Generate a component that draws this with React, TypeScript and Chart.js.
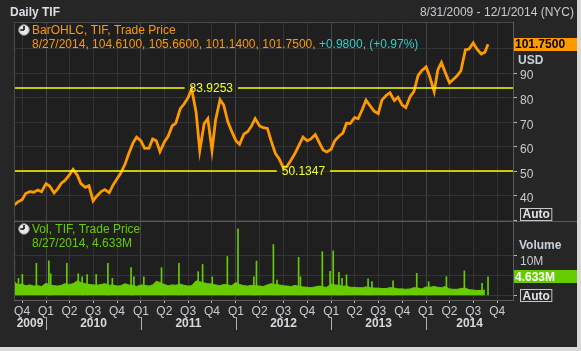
import React, { useEffect, useRef } from 'react';
import { Chart, registerables } from 'chart.js';

Chart.register(...registerables);

const DAY = 86400000;
const FONT = '"Liberation Sans", Arial, sans-serif';

const title = 'Daily TIF';
const rangeText = '8/31/2009 - 12/1/2014 (NYC)';
const axisStart = '2009-08-31';
const axisEnd = '2014-12-01';
const years = [2009, 2010, 2011, 2012, 2013, 2014];
const quarterMonths = [1, 4, 7, 10];

// Closing price, sampled on the 1st and 15th of each month
const price2009 = [36.3, 37.6, 38.5, 41.0, 41.8, 41.5, 42.4, 41.7]; // from September
const price2010 = [45.0, 44.0, 41.2, 42.9, 45.2, 46.3, 48.6, 50.8, 48.5, 45.0, 43.5, 44.2, 38.0, 39.9, 41.8, 42.6, 41.3, 44.3, 47.0, 49.2, 53.0, 57.2, 61.5, 63.9];
const price2011 = [62.4, 59.4, 59.5, 63.2, 62.5, 58.0, 62.0, 64.2, 68.5, 69.6, 75.5, 77.3, 80.0, 83.5, 74.0, 58.5, 69.5, 71.5, 58.5, 71.0, 79.2, 77.0, 70.2, 66.5];
const price2012 = [62.5, 61.0, 65.2, 66.1, 68.5, 71.5, 68.5, 67.8, 67.5, 62.5, 57.2, 55.2, 51.5, 52.0, 54.8, 57.3, 61.0, 64.0, 62.4, 63.2, 65.0, 62.0, 58.7, 57.9];
const price2013 = [59.0, 62.5, 64.4, 65.6, 69.6, 69.5, 71.9, 71.5, 75.3, 79.0, 76.5, 74.5, 73.5, 79.0, 81.0, 82.0, 78.8, 80.2, 77.0, 76.0, 80.5, 82.5, 89.0, 91.0];
const price2014 = [92.5, 88.5, 82.5, 91.3, 94.3, 90.4, 86.0, 87.4, 89.0, 91.0, 99.5, 99.8, 102.3, 99.8, 97.8, 98.5]; // to mid-August

const lastDate = '2014-08-27';
const lastDateText = '8/27/2014';
const lastOHLC = [104.61, 105.66, 101.14, 101.75];
const lastChange = 0.98;
const lastChangePct = 0.97;
const lastVolume = 4.633e6;

const maxLine = { value: 83.9253, date: '2011-07-07' };
const minLine = { value: 50.1347, date: '2012-06-25' };

// Volume (millions): typical level on the 1st and 15th of each month
const vol2009 = [3.4, 2.6, 2.8, 2.4, 2.6, 2.3, 2.4, 2.2];
const vol2010 = [3.0, 2.6, 2.4, 2.3, 2.5, 2.9, 2.7, 2.9, 3.6, 3.2, 2.9, 2.7, 2.6, 2.5, 2.7, 2.9, 2.5, 2.6, 2.3, 2.4, 2.9, 2.6, 2.5, 2.2];
const vol2011 = [2.6, 2.5, 2.3, 2.6, 3.5, 3.2, 2.7, 2.4, 2.6, 2.5, 2.8, 2.5, 2.3, 2.4, 3.6, 3.4, 3.1, 2.9, 2.8, 2.6, 2.4, 2.7, 2.6, 2.4];
const vol2012 = [3.2, 2.7, 2.4, 2.3, 2.5, 2.4, 2.3, 2.2, 2.6, 2.9, 2.7, 2.6, 2.4, 2.3, 2.2, 2.5, 2.2, 2.1, 2.0, 1.9, 2.1, 2.3, 2.1, 2.0];
const vol2013 = [2.8, 2.6, 2.5, 2.2, 2.4, 2.0, 2.0, 1.9, 1.9, 2.1, 1.9, 1.8, 1.8, 1.7, 1.7, 1.9, 1.8, 1.6, 1.6, 1.5, 1.6, 1.9, 1.8, 1.6];
const vol2014 = [2.1, 2.0, 2.2, 2.0, 1.9, 2.2, 1.6, 1.5, 1.5, 1.7, 1.8, 1.4, 1.3, 1.2, 1.2, 1.3];

// Volume spikes (millions)
const spikeDates = ['2009-09-01', '2009-09-17', '2009-10-02', '2009-11-25', '2010-01-12', '2010-01-19', '2010-03-22', '2010-05-05', '2010-05-20', '2010-06-08', '2010-07-13', '2010-08-27', '2010-09-13', '2010-11-24', '2010-12-05', '2011-01-12', '2011-03-21', '2011-05-27', '2011-08-09', '2011-08-26', '2011-10-02', '2011-11-29', '2012-01-09', '2012-03-10', '2012-03-20', '2012-05-24', '2012-06-07', '2012-08-29', '2012-09-05', '2012-11-28', '2012-12-28', '2013-01-09', '2013-01-31', '2013-02-12', '2013-03-01', '2013-05-23', '2013-06-07', '2013-08-27', '2013-11-26', '2014-01-11', '2014-03-20', '2014-05-28', '2014-08-04', '2014-08-27'];
const spikeValues = [8.6, 4.25, 5.2, 8.0, 8.6, 5.4, 8.0, 5.4, 4.6, 5.2, 5.2, 8.0, 4.25, 6.9, 4.6, 4.6, 6.9, 8.0, 5.9, 7.7, 4.6, 9.7, 16.6, 4.6, 8.55, 12.7, 3.8, 9.5, 4.6, 10.9, 6.0, 11.1, 5.75, 4.25, 5.1, 4.1, 3.4, 3.6, 5.5, 3.4, 4.65, 6.1, 3.0, 4.633];

const priceTicks = [30, 40, 50, 60, 70, 80, 90, 100];
const volumeTicks = [0, 5e6, 10e6];

const toDay = (s: string) => {
  const [y, m, d] = s.split('-').map(Number);
  return Date.UTC(y, m - 1, d) / DAY;
};

const semiMonthly = (year: number, startMonth: number, values: number[], scale = 1) =>
  values.map((v, i) => ({
    x: Date.UTC(year, startMonth - 1 + Math.floor(i / 2), i % 2 ? 15 : 1) / DAY,
    y: v * scale,
  }));

const xMin = toDay(axisStart);
const xMax = toDay(axisEnd);
const quarterTicks = years
  .flatMap((y) => quarterMonths.map((m) => Date.UTC(y, m - 1, 1) / DAY))
  .filter((d) => d > xMin && d < xMax);
const isYearStart = (d: number) => new Date(d * DAY).getUTCMonth() === 0;

function drawClock(ctx: CanvasRenderingContext2D, cx: number, cy: number) {
  ctx.save();
  ctx.beginPath();
  ctx.arc(cx, cy, 5.3, 0, Math.PI * 2);
  ctx.fillStyle = '#e8e8e8';
  ctx.fill();
  ctx.strokeStyle = '#8a8a8a';
  ctx.lineWidth = 1;
  ctx.stroke();
  ctx.beginPath();
  ctx.moveTo(cx, cy);
  ctx.lineTo(cx, cy - 4);
  ctx.moveTo(cx, cy);
  ctx.lineTo(cx - 3.8, cy);
  ctx.strokeStyle = '#111';
  ctx.lineWidth = 1.6;
  ctx.stroke();
  ctx.restore();
}

function drawBoxLabel(ctx: CanvasRenderingContext2D, x1: number, x2: number, cy: number, h: number, bg: string, fg: string, text: string) {
  ctx.fillStyle = bg;
  ctx.fillRect(x1, Math.round(cy - h / 2), x2 - x1, h);
  ctx.fillStyle = fg;
  ctx.font = `bold 12px ${FONT}`;
  ctx.textAlign = 'left';
  ctx.textBaseline = 'middle';
  ctx.fillText(text, x1 + 1, cy + 0.5);
}

function drawAutoBox(ctx: CanvasRenderingContext2D, x: number, cy: number) {
  ctx.font = `bold 12px ${FONT}`;
  const w = ctx.measureText('Auto').width + 4;
  ctx.strokeStyle = '#c8c8c8';
  ctx.lineWidth = 1;
  ctx.strokeRect(x + 0.5, Math.round(cy - 6) + 0.5, w, 12);
  ctx.fillStyle = '#e0e4ea';
  ctx.textAlign = 'left';
  ctx.textBaseline = 'middle';
  ctx.fillText('Auto', x + 2.5, cy + 1);
}

const decor = {
  id: 'decor',
  beforeDraw(chart: any) {
    const { ctx, chartArea: a } = chart;
    ctx.save();
    ctx.fillStyle = '#dadada';
    ctx.fillRect(0, 0, chart.width, chart.height);
    ctx.fillStyle = '#262626';
    ctx.fillRect(0, 0, chart.width - 4, chart.height - 4);
    ctx.fillStyle = '#1f1f1f';
    ctx.fillRect(a.left, a.top, a.right - a.left, a.bottom - a.top);
    ctx.restore();
  },
  afterDatasetsDraw(chart: any) {
    const { ctx, chartArea: a } = chart;
    const ys = chart.scales.y;
    const xs = chart.scales.x;
    ctx.save();
    for (const ln of [maxLine, minLine]) {
      const py = Math.round(ys.getPixelForValue(ln.value));
      const px = xs.getPixelForValue(toDay(ln.date));
      ctx.font = `12px ${FONT}`;
      const label = ln.value.toFixed(4);
      const tw = ctx.measureText(label).width;
      ctx.strokeStyle = '#ffff00';
      ctx.lineWidth = 1.5;
      ctx.beginPath();
      ctx.moveTo(a.left, py);
      ctx.lineTo(px - 5, py);
      ctx.moveTo(px + tw + 5, py);
      ctx.lineTo(a.right, py);
      ctx.stroke();
      ctx.fillStyle = '#f4ff2a';
      ctx.textAlign = 'left';
      ctx.textBaseline = 'middle';
      ctx.fillText(label, px, py + 1);
    }
    ctx.restore();
  },
  afterDraw(chart: any) {
    const { ctx, chartArea: a } = chart;
    const ys = chart.scales.y;
    const vs = chart.scales.yv;
    const xs = chart.scales.x;
    const W = chart.width - 4;
    ctx.save();

    // frame
    ctx.strokeStyle = '#4a4a4a';
    ctx.lineWidth = 1;
    ctx.beginPath();
    ctx.moveTo(a.left + 0.5, a.top);
    ctx.lineTo(a.left + 0.5, a.bottom);
    ctx.moveTo(a.left, a.top + 0.5);
    ctx.lineTo(a.right, a.top + 0.5);
    ctx.stroke();
    ctx.strokeStyle = '#5c5c5c';
    ctx.beginPath();
    ctx.moveTo(a.right + 0.5, a.top);
    ctx.lineTo(a.right + 0.5, a.bottom + 1);
    ctx.moveTo(a.left, a.bottom + 0.5);
    ctx.lineTo(a.right + 1, a.bottom + 0.5);
    ctx.moveTo(a.left, Math.round(ys.bottom) + 0.5);
    ctx.lineTo(W, Math.round(ys.bottom) + 0.5);
    ctx.stroke();

    // header
    ctx.fillStyle = '#dcdfe4';
    ctx.font = `bold 12px ${FONT}`;
    ctx.textAlign = 'left';
    ctx.textBaseline = 'middle';
    ctx.fillText(title, 10, 12.5);
    ctx.font = `12px ${FONT}`;
    ctx.fillStyle = '#c8cbd0';
    ctx.textAlign = 'right';
    ctx.fillText(rangeText, W - 3, 13);

    // legends
    drawClock(ctx, 24, 30);
    ctx.textAlign = 'left';
    ctx.font = `12px ${FONT}`;
    ctx.fillStyle = '#ff9900';
    ctx.fillText('BarOHLC, TIF, Trade Price', 32, 30.5);
    const ohlcText = `${lastDateText}, ${lastOHLC.map((v) => v.toFixed(4)).join(', ')}, `;
    ctx.fillText(ohlcText, 32, 44.5);
    const w1 = ctx.measureText(ohlcText).width;
    ctx.fillStyle = '#33cccc';
    ctx.fillText(`+${lastChange.toFixed(4)}, (+${lastChangePct.toFixed(2)}%)`, 32 + w1, 44.5);

    const vy = Math.round(ys.bottom);
    drawClock(ctx, 24, vy + 8);
    ctx.fillStyle = '#66cc00';
    ctx.fillText('Vol, TIF, Trade Price', 32, vy + 8.5);
    ctx.fillText(`${lastDateText}, ${(lastVolume / 1e6).toFixed(3)}M`, 32, vy + 22.5);

    // right axis decorations
    drawBoxLabel(ctx, a.right + 1, W, ys.getPixelForValue(lastOHLC[3]), 13, '#ff9900', '#000', lastOHLC[3].toFixed(4));
    ctx.fillStyle = '#c8d2dc';
    ctx.font = `bold 12px ${FONT}`;
    ctx.textAlign = 'left';
    ctx.fillText('USD', a.right + 5, 61);
    drawAutoBox(ctx, a.right + 7, ys.bottom - 7);

    ctx.fillStyle = '#c8d2dc';
    ctx.font = `bold 12px ${FONT}`;
    ctx.fillText('Volume', a.right + 6, vy + 25);
    drawBoxLabel(ctx, a.right + 1, W, vs.getPixelForValue(lastVolume), 13, '#66cc00', '#fff', `${(lastVolume / 1e6).toFixed(3)}M`);
    drawAutoBox(ctx, a.right + 7, vs.getPixelForValue(0));

    // year labels
    ctx.font = `bold 12px ${FONT}`;
    ctx.fillStyle = '#d6d9de';
    ctx.textAlign = 'center';
    for (const y of years) {
      const s = Math.max(xMin, Date.UTC(y, 0, 1) / DAY);
      const e = Math.min(xMax, Date.UTC(y + 1, 0, 1) / DAY);
      const cx = (xs.getPixelForValue(s) + xs.getPixelForValue(e)) / 2;
      ctx.fillText(String(y), cx, 324);
    }
    ctx.strokeStyle = '#b0b0b0';
    ctx.beginPath();
    for (const y of years) {
      const d = Date.UTC(y, 0, 1) / DAY;
      if (d <= xMin || d >= xMax) continue;
      const px = Math.round(xs.getPixelForValue(d)) + 0.5;
      ctx.moveTo(px, 317);
      ctx.lineTo(px, 330);
    }
    ctx.stroke();
    ctx.restore();
  },
};

export default function App() {
  const ref = useRef<HTMLCanvasElement | null>(null);

  useEffect(() => {
    document.body.style.margin = '0';
    const canvas = ref.current;
    if (!canvas) return;

    const priceData = [
      ...semiMonthly(2009, 9, price2009),
      ...semiMonthly(2010, 1, price2010),
      ...semiMonthly(2011, 1, price2011),
      ...semiMonthly(2012, 1, price2012),
      ...semiMonthly(2013, 1, price2013),
      ...semiMonthly(2014, 1, price2014),
      { x: toDay(lastDate), y: lastOHLC[3] },
    ];
    const volData = [
      ...semiMonthly(2009, 9, vol2009, 1e6),
      ...semiMonthly(2010, 1, vol2010, 1e6),
      ...semiMonthly(2011, 1, vol2011, 1e6),
      ...semiMonthly(2012, 1, vol2012, 1e6),
      ...semiMonthly(2013, 1, vol2013, 1e6),
      ...semiMonthly(2014, 1, vol2014, 1e6),
    ];
    const spikeData = spikeDates.map((d, i) => ({ x: toDay(d), y: spikeValues[i] * 1e6 }));

    const tickFont = { family: FONT, size: 12 };
    const noPad = (s: any) => {
      s.paddingLeft = 0;
      s.paddingRight = 0;
      s.paddingTop = 0;
      s.paddingBottom = 0;
    };

    const chart = new Chart(canvas, {
      data: {
        datasets: [
          {
            type: 'line',
            data: priceData,
            xAxisID: 'x',
            yAxisID: 'y',
            borderColor: '#ff9900',
            borderWidth: 2.8,
            borderJoinStyle: 'miter',
            pointRadius: 0,
            tension: 0,
          },
          {
            type: 'bar',
            data: spikeData,
            xAxisID: 'x',
            yAxisID: 'yv',
            backgroundColor: '#66cc00',
            barThickness: 1,
          },
          {
            type: 'line',
            data: volData,
            xAxisID: 'x',
            yAxisID: 'yv',
            borderColor: '#66cc00',
            backgroundColor: '#66cc00',
            borderWidth: 1,
            pointRadius: 0,
            tension: 0,
            fill: 'origin',
          },
        ],
      } as any,
      options: {
        responsive: false,
        animation: false,
        events: [],
        layout: { padding: { left: 14, top: 22, right: 4, bottom: 4 } },
        plugins: { legend: { display: false }, tooltip: { enabled: false } },
        scales: {
          x: {
            type: 'linear',
            position: 'bottom',
            offset: false,
            bounds: 'data',
            min: xMin,
            max: xMax,
            afterBuildTicks: (s: any) => {
              s.ticks = quarterTicks.map((v) => ({ value: v }));
            },
            afterFit: (s: any) => {
              s.height = 47;
              noPad(s);
            },
            ticks: {
              color: '#c8ccd2',
              font: tickFont,
              padding: 1,
              maxRotation: 0,
              autoSkip: false,
              callback: (v: any) => 'Q' + (Math.floor(new Date(Number(v) * DAY).getUTCMonth() / 3) + 1),
            },
            grid: {
              offset: false,
              color: (c: any) => (c.tick && isYearStart(c.tick.value) ? '#444444' : '#343434'),
              tickColor: '#b8b8b8',
              tickLength: 3,
            },
            border: { display: false },
          },
          y: {
            type: 'linear',
            position: 'right',
            stack: 'panels',
            stackWeight: 199,
            min: 29.8,
            max: 110.8,
            afterBuildTicks: (s: any) => {
              s.ticks = priceTicks.map((v) => ({ value: v }));
            },
            afterFit: (s: any) => {
              s.width = 64;
              noPad(s);
            },
            ticks: {
              color: '#c8ccd2',
              font: tickFont,
              padding: 3,
              labelOffset: 3,
              autoSkip: false,
              callback: (v: any) => (v === 30 || v === 100 ? '' : String(v)),
            },
            grid: { color: '#343434', tickColor: '#b8b8b8', tickLength: 4 },
            border: { display: false },
          },
          yv: {
            type: 'linear',
            position: 'right',
            stack: 'panels',
            stackWeight: 79,
            min: -1.175e6,
            max: 18.575e6,
            afterBuildTicks: (s: any) => {
              s.ticks = volumeTicks.map((v) => ({ value: v }));
            },
            afterFit: (s: any) => {
              s.width = 64;
              noPad(s);
            },
            ticks: {
              color: '#c8ccd2',
              font: tickFont,
              padding: 3,
              labelOffset: 6,
              autoSkip: false,
              callback: (v: any) => (v === 10e6 ? '10M' : ''),
            },
            grid: { color: '#343434', tickColor: '#b8b8b8', tickLength: 4 },
            border: { display: false },
          },
        },
      } as any,
      plugins: [decor],
    });

    return () => chart.destroy();
  }, []);

  return <canvas ref={ref} width={581} height={351} style={{ display: 'block' }} />;
}
